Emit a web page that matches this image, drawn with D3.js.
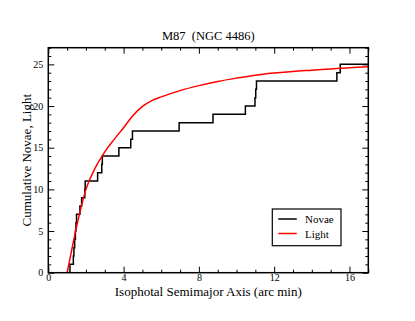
<!DOCTYPE html>
<html>
<head>
<meta charset="utf-8">
<script src="https://cdn.jsdelivr.net/npm/d3@7"></script>
<style>
  body { margin: 0; background: #fff; }
  svg text { font-family: "Liberation Serif", "DejaVu Serif", serif; fill: #000; }
</style>
</head>
<body>
<div id="chart"></div>
<script>
// Sorted nova radii (arc min); the cumulative count steps up by one at each
const novaeRadius = [1.15, 1.33, 1.36, 1.40, 1.44, 1.47, 1.50, 1.68, 1.77, 1.94, 1.96,
    2.62, 2.84, 2.87, 3.75, 4.38, 4.47, 6.95, 8.75, 10.47, 10.98, 11.02, 11.06, 15.33, 15.51];

// Cumulative light, scaled to the nova total
const lightX = [1.0, 1.25, 1.5, 1.75, 2.0, 2.5, 3.0, 3.5, 4.0, 4.5, 5.0, 5.5, 6.0,
    7.0, 8.0, 9.0, 10.0, 11.0, 12.0, 13.0, 14.0, 15.0, 16.0, 17.0];
const lightY = [0, 2.8, 5.5, 7.9, 10.0, 12.6, 14.5, 16.0, 17.4, 18.85, 19.95, 20.65, 21.1,
    21.85, 22.45, 22.95, 23.35, 23.7, 23.95, 24.15, 24.3, 24.45, 24.6, 24.7];

const xMajorTicks = [0, 4, 8, 12, 16];
const yMajorTicks = [0, 5, 10, 15, 20, 25];

const seriesNames = ["Novae", "Light"];
const seriesColors = ["#000000", "#ff0000"];

const WIDTH = 415, HEIGHT = 321;
const MARGIN = { top: 47.7, right: 46.7, bottom: 48.3, left: 48.3 };
const innerW = WIDTH - MARGIN.left - MARGIN.right;
const innerH = HEIGHT - MARGIN.top - MARGIN.bottom;

const svg = d3.select("#chart").append("svg")
    .attr("width", WIDTH)
    .attr("height", HEIGHT);

const g = svg.append("g")
    .attr("transform", `translate(${MARGIN.left},${MARGIN.top})`);

const x = d3.scaleLinear().domain([0, 17]).range([0, innerW]);
const y = d3.scaleLinear().domain([0, 27]).range([innerH, 0]);

const xMinor = d3.range(0, 18, 1).filter(v => !xMajorTicks.includes(v));
const yMinor = d3.range(0, 28, 1).filter(v => !yMajorTicks.includes(v));

function styleAxis(sel) {
    sel.select(".domain").remove();
    sel.selectAll("line").attr("stroke", "#000").attr("stroke-width", 1);
    sel.selectAll("text").style("font-size", "10px");
}

// Inward ticks on all four sides; labels only bottom and left
g.append("g")
    .attr("transform", `translate(0,${innerH})`)
    .call(d3.axisBottom(x).tickValues(xMajorTicks).tickSize(-6).tickPadding(1))
    .call(styleAxis)
    .call(s => s.selectAll("text").attr("dy", null).attr("y", 8));
g.append("g")
    .attr("transform", `translate(0,${innerH})`)
    .call(d3.axisBottom(x).tickValues(xMinor).tickSize(-3).tickFormat(""))
    .call(styleAxis);
g.append("g")
    .call(d3.axisTop(x).tickValues(xMajorTicks).tickSize(-6).tickFormat(""))
    .call(styleAxis);
g.append("g")
    .call(d3.axisTop(x).tickValues(xMinor).tickSize(-3).tickFormat(""))
    .call(styleAxis);

g.append("g")
    .call(d3.axisLeft(y).tickValues(yMajorTicks).tickSize(-6).tickPadding(5))
    .call(styleAxis);
g.append("g")
    .call(d3.axisLeft(y).tickValues(yMinor).tickSize(-3).tickFormat(""))
    .call(styleAxis);
g.append("g")
    .attr("transform", `translate(${innerW},0)`)
    .call(d3.axisRight(y).tickValues(yMajorTicks).tickSize(-6).tickFormat(""))
    .call(styleAxis);
g.append("g")
    .attr("transform", `translate(${innerW},0)`)
    .call(d3.axisRight(y).tickValues(yMinor).tickSize(-3).tickFormat(""))
    .call(styleAxis);

// Clip so the lines stop at the frame
g.append("clipPath").attr("id", "plot-clip")
    .append("rect").attr("width", innerW).attr("height", innerH);

const plot = g.append("g").attr("clip-path", "url(#plot-clip)");

// Novae: cumulative step function
const novaeData = [{ r: novaeRadius[0], n: 0 }]
    .concat(novaeRadius.map((r, i) => ({ r, n: i + 1 })))
    .concat([{ r: 17, n: novaeRadius.length }]);

plot.append("path")
    .datum(novaeData)
    .attr("fill", "none")
    .attr("stroke", seriesColors[0])
    .attr("stroke-width", 1.5)
    .attr("d", d3.line()
        .x(d => x(d.r))
        .y(d => y(d.n))
        .curve(d3.curveStepAfter));

// Light: smooth curve
const lightData = lightX.map((v, i) => ({ r: v, n: lightY[i] }));

plot.append("path")
    .datum(lightData)
    .attr("fill", "none")
    .attr("stroke", seriesColors[1])
    .attr("stroke-width", 1.5)
    .attr("d", d3.line()
        .x(d => x(d.r))
        .y(d => y(d.n))
        .curve(d3.curveMonotoneX));

// Frame
g.append("rect")
    .attr("width", innerW)
    .attr("height", innerH)
    .attr("fill", "none")
    .attr("stroke", "#000")
    .attr("stroke-width", 1.5);

// Legend
const legend = svg.append("g").attr("transform", "translate(272.3,209)");
legend.append("rect")
    .attr("width", 68.7)
    .attr("height", 36.7)
    .attr("fill", "#fff")
    .attr("stroke", "#000")
    .attr("stroke-width", 1.2);

seriesNames.forEach((name, i) => {
    const row = legend.append("g").attr("transform", `translate(0,${10 + i * 14.5})`);
    row.append("line")
        .attr("x1", 6).attr("x2", 24.5)
        .attr("stroke", seriesColors[i])
        .attr("stroke-width", 1.5);
    row.append("text")
        .attr("x", 32.7)
        .attr("y", 4)
        .style("font-size", "11px")
        .text(name);
});

// Title and axis labels
svg.append("text")
    .attr("x", MARGIN.left + innerW / 2)
    .attr("y", 40)
    .attr("text-anchor", "middle")
    .style("font-size", "12.5px")
    .style("white-space", "pre")
    .text("M87  (NGC 4486)");

svg.append("text")
    .attr("x", MARGIN.left + innerW / 2)
    .attr("y", 296)
    .attr("text-anchor", "middle")
    .style("font-size", "13px")
    .text("Isophotal Semimajor Axis (arc min)");

svg.append("text")
    .attr("transform", `translate(31,${MARGIN.top + innerH / 2}) rotate(-90)`)
    .attr("text-anchor", "middle")
    .style("font-size", "13px")
    .text("Cumulative Novae, Light");
</script>
</body>
</html>
